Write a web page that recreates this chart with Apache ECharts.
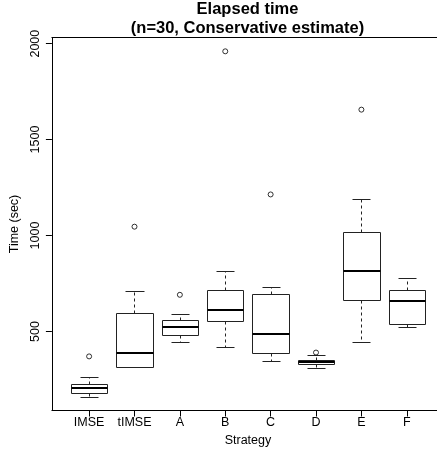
<!DOCTYPE html>
<html>
<head>
<meta charset="utf-8">
<script src="https://cdn.jsdelivr.net/npm/echarts@6/dist/echarts.min.js"></script>
<style>
html,body{margin:0;padding:0;background:#fff;}
#chart{width:437px;height:456px;}
</style>
</head>
<body>
<div id="chart"></div>
<script>
// ---- data ----
const categories = ['IMSE', 'tIMSE', 'A', 'B', 'C', 'D', 'E', 'F'];
const whiskerLow  = [160, 314, 444, 417, 345, 309, 444, 522];
const quartile1   = [180, 314, 484, 552, 387, 332, 663, 538];
const medians     = [203, 387, 521, 611, 488, 342, 814, 658];
const quartile3   = [227, 595, 559, 717, 693, 352, 1018, 717];
const whiskerHigh = [265, 710, 590, 816, 731, 375, 1188, 778];
const outlierCategory = [1, 2, 3, 4, 5, 6, 7];
const outlierValues   = [370, 1046, 691, 1960, 1214, 390, 1656];
const yTickValues = [500, 1000, 1500, 2000];
const xTickValues = [1, 2, 3, 4, 5, 6, 7, 8];

const FONT = "'Liberation Sans', Arial, Helvetica, sans-serif";
const BOX_WIDTH = 0.8;
const CAP_WIDTH = 0.4;
const X_MIN = 0.18, X_MAX = 8.666;
const Y_MIN = 88, Y_MAX = 2032;

const boxData = categories.map((c, i) => [i + 1, whiskerLow[i], quartile1[i], medians[i], quartile3[i], whiskerHigh[i]]);
const outlierData = outlierCategory.map((c, i) => [c, outlierValues[i]]);

const px = v => Math.round(v) + 0.5;

function renderBox(params, api) {
  const x = api.value(0);
  const lo = api.coord([x, api.value(1)]);
  const q1 = api.coord([x, api.value(2)]);
  const md = api.coord([x, api.value(3)]);
  const q3 = api.coord([x, api.value(4)]);
  const hi = api.coord([x, api.value(5)]);
  const bw = api.size([BOX_WIDTH, 0])[0];
  const cw = api.size([CAP_WIDTH, 0])[0];
  const cx = px(lo[0]);
  const xl = px(lo[0] - bw / 2), xr = px(lo[0] + bw / 2);
  const cl = px(lo[0] - cw / 2), cr = px(lo[0] + cw / 2);
  const yTop = px(q3[1]), yBot = px(q1[1]);
  const solid = {stroke: '#222', lineWidth: 1, fill: null};
  const dashed = {stroke: '#222', lineWidth: 1, lineDash: [3, 3], fill: null};
  return {
    type: 'group',
    children: [
      {type: 'line', shape: {x1: cx, y1: yTop, x2: cx, y2: px(hi[1])}, style: dashed},
      {type: 'line', shape: {x1: cx, y1: yBot, x2: cx, y2: px(lo[1])}, style: dashed},
      {type: 'line', shape: {x1: cl, y1: px(hi[1]), x2: cr, y2: px(hi[1])}, style: solid},
      {type: 'line', shape: {x1: cl, y1: px(lo[1]), x2: cr, y2: px(lo[1])}, style: solid},
      {type: 'rect', shape: {x: xl, y: yTop, width: xr - xl, height: yBot - yTop}, style: {stroke: '#222', lineWidth: 1, fill: '#fff'}},
      {type: 'line', shape: {x1: xl, y1: Math.round(md[1]), x2: xr, y2: Math.round(md[1])}, style: {stroke: '#000', lineWidth: 2}}
    ]
  };
}

const lineStyle = {color: '#000', width: 1};

const chart = echarts.init(document.getElementById('chart'), null, {renderer: 'canvas'});
chart.setOption({
  animation: false,
  backgroundColor: '#fff',
  title: {
    text: 'Elapsed time\n(n=30, Conservative estimate)',
    left: 247.5,
    top: 0,
    padding: 0,
    textAlign: 'center',
    textStyle: {fontFamily: FONT, fontSize: 16.5, fontWeight: 'bold', color: '#000', lineHeight: 19}
  },
  grid: {
    left: 51.5, right: 0, top: 37.5, bottom: 45.5,
    show: false,
    containLabel: false
  },
  xAxis: [
    {
      type: 'value',
      position: 'bottom',
      min: X_MIN, max: X_MAX,
      name: 'Strategy',
      nameLocation: 'middle',
      nameGap: 23.5,
      nameTextStyle: {fontFamily: FONT, fontSize: 12.5, color: '#000', padding: [0, 0, 0, 7]},
      axisLine: {show: true, onZero: false, lineStyle: lineStyle},
      splitLine: {show: false},
      axisTick: {show: true, inside: false, length: 6, customValues: xTickValues, lineStyle: lineStyle},
      axisLabel: {
        show: true, margin: 6, customValues: xTickValues,
        fontFamily: FONT, fontSize: 12.5, color: '#000',
        formatter: v => categories[Math.round(v) - 1]
      }
    },
    {
      type: 'value',
      position: 'top',
      min: X_MIN, max: X_MAX,
      axisLine: {show: true, onZero: false, lineStyle: lineStyle},
      splitLine: {show: false},
      axisTick: {show: false},
      axisLabel: {show: false}
    }
  ],
  yAxis: {
    type: 'value',
    min: Y_MIN, max: Y_MAX,
    name: 'Time (sec)',
    nameLocation: 'middle',
    nameGap: 25,
    nameTextStyle: {fontFamily: FONT, fontSize: 12.5, color: '#000'},
    axisLine: {show: true, onZero: false, lineStyle: lineStyle},
    splitLine: {show: false},
    axisTick: {show: true, inside: false, length: 6, customValues: yTickValues, lineStyle: lineStyle},
    axisLabel: {
      show: true, margin: 10, rotate: 90, customValues: yTickValues,
      fontFamily: FONT, fontSize: 12.5, color: '#000',
      formatter: v => String(v)
    }
  },
  series: [
    {
      type: 'custom',
      renderItem: renderBox,
      data: boxData,
      encode: {x: 0, y: [1, 2, 3, 4, 5]},
      clip: false
    },
    {
      type: 'scatter',
      data: outlierData,
      symbol: 'circle',
      symbolSize: 5,
      itemStyle: {color: 'rgba(0,0,0,0)', borderColor: '#000', borderWidth: 1},
      silent: true
    }
  ]
});
</script>
</body>
</html>
